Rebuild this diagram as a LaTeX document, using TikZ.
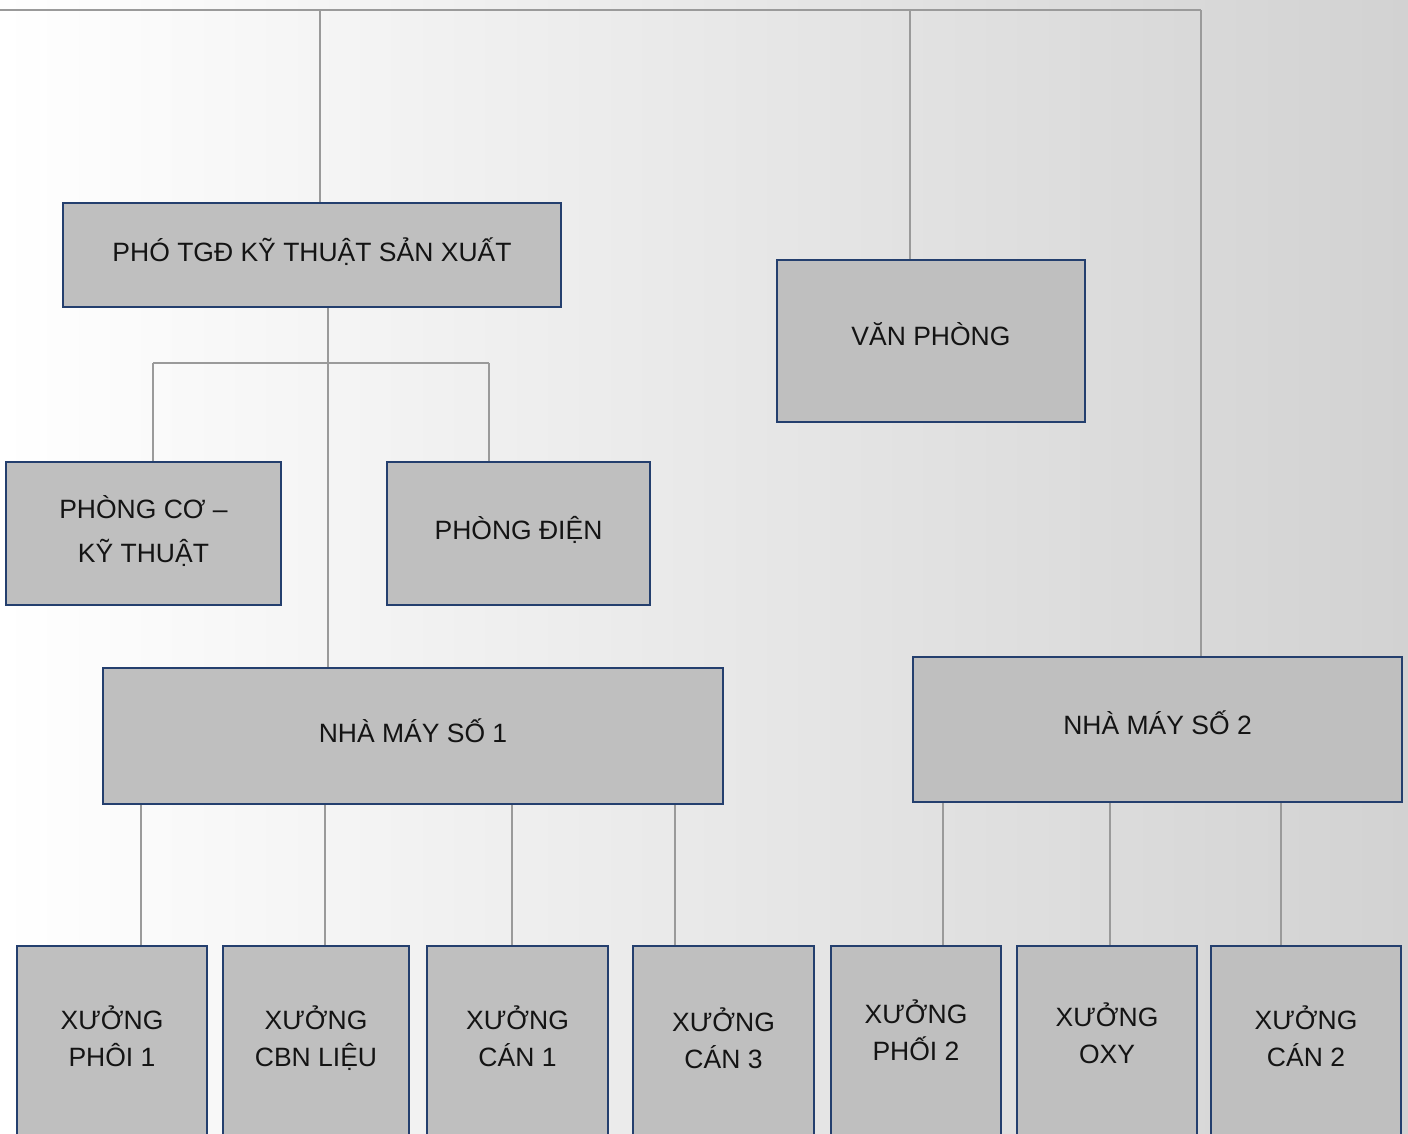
\documentclass[tikz,border=0pt]{standalone}
\usepackage{fontspec}
\setmainfont{Liberation Sans}
\definecolor{boxfill}{HTML}{BFBFBF}
\definecolor{boxline}{HTML}{243F6E}
\definecolor{conncol}{HTML}{9A9A9A}
\definecolor{bgright}{HTML}{D2D2D2}
\tikzset{
  orgbox/.style={draw=boxline, fill=boxfill, line width=2.6pt, inner sep=0pt,
    font=\fontsize{26.5pt}{37pt}\selectfont, text=black!92},
  connline/.style={draw=conncol, line width=1.4pt},
  lowbox/.style={orgbox, minimum height=204pt}
}
\begin{document}
\begin{tikzpicture}[x=1pt,y=-1pt]
\useasboundingbox (0,0) rectangle (1408,1133);
\clip (0,0) rectangle (1408,1133);
\shade[left color=white, right color=bgright] (0,0) rectangle (1408,1133);

% upper boxes
\node[orgbox, minimum width=498pt, minimum height=104pt] (pho) at (312,255)
  {\begin{tabular}{@{}c@{}}PHÓ TGĐ KỸ THUẬT SẢN XUẤT\\[2pt]\end{tabular}};
\node[orgbox, minimum width=308pt, minimum height=162pt] (van) at (931,341)
  {\begin{tabular}{@{}c@{}}VĂN PHÒNG\\[5pt]\end{tabular}};
\node[orgbox, minimum width=275pt, minimum height=143pt] (pcokt) at (143.5,533.5)
  {\begin{tabular}{@{}c@{}}PHÒNG CƠ –\\[7pt]KỸ THUẬT\end{tabular}};
\node[orgbox, minimum width=263pt, minimum height=143pt] (pdien) at (518.5,533.5)
  {\begin{tabular}{@{}c@{}}PHÒNG ĐIỆN\\[2pt]\end{tabular}};
\node[orgbox, minimum width=620pt, minimum height=136pt] (nm1) at (413,736)
  {\begin{tabular}{@{}c@{}}NHÀ MÁY SỐ 1\\[2pt]\end{tabular}};
\node[orgbox, minimum width=489pt, minimum height=145pt] (nm2) at (1157.5,729.5)
  {\begin{tabular}{@{}c@{}}NHÀ MÁY SỐ 2\\[4pt]\end{tabular}};

% lower boxes
\node[lowbox, minimum width=190pt] (x1) at (112,1048)
  {\begin{tabular}{@{}c@{}}XƯỞNG\\PHÔI 1\\[15pt]\end{tabular}};
\node[lowbox, minimum width=186pt] (x2) at (316,1048)
  {\begin{tabular}{@{}c@{}}XƯỞNG\\CBN LIỆU\\[15pt]\end{tabular}};
\node[lowbox, minimum width=181pt] (x3) at (517.5,1048)
  {\begin{tabular}{@{}c@{}}XƯỞNG\\CÁN 1\\[14pt]\end{tabular}};
\node[lowbox, minimum width=181pt] (x4) at (723.5,1048)
  {\begin{tabular}{@{}c@{}}XƯỞNG\\CÁN 3\\[10pt]\end{tabular}};
\node[lowbox, minimum width=170pt] (x5) at (916,1048)
  {\begin{tabular}{@{}c@{}}XƯỞNG\\PHỐI 2\\[27pt]\end{tabular}};
\node[lowbox, minimum width=180pt] (x6) at (1107,1048)
  {\begin{tabular}{@{}c@{}}XƯỞNG\\OXY\\[20pt]\end{tabular}};
\node[lowbox, minimum width=190pt] (x7) at (1306,1048)
  {\begin{tabular}{@{}c@{}}XƯỞNG\\CÁN 2\\[15pt]\end{tabular}};

% top bus
\coordinate (tl) at (0,10);
\coordinate (tr) at (1201,10);
\coordinate (t1) at (320,10);
\coordinate (t2) at (910,10);
\draw[connline] (tl) -- (tr);
\draw[connline] (t1) -- (t1 |- pho.north);
\draw[connline] (t2) -- (t2 |- van.north);
\draw[connline] (tr) -- (tr |- nm2.north);

% under PHO TGD
\coordinate (bus) at (328,363);
\coordinate (busl) at (153,363);
\coordinate (busr) at (489,363);
\draw[connline] (bus |- pho.south) -- (bus |- nm1.north);
\draw[connline] (busl) -- (busr);
\draw[connline] (busl) -- (busl |- pcokt.north);
\draw[connline] (busr) -- (busr |- pdien.north);

% under NHA MAY 1
\coordinate (d1) at (141,0);
\coordinate (d2) at (325,0);
\coordinate (d3) at (512,0);
\coordinate (d4) at (675,0);
\draw[connline] (d1 |- nm1.south) -- (d1 |- x1.north);
\draw[connline] (d2 |- nm1.south) -- (d2 |- x2.north);
\draw[connline] (d3 |- nm1.south) -- (d3 |- x3.north);
\draw[connline] (d4 |- nm1.south) -- (d4 |- x4.north);

% under NHA MAY 2
\coordinate (e1) at (943,0);
\coordinate (e2) at (1110,0);
\coordinate (e3) at (1281,0);
\draw[connline] (e1 |- nm2.south) -- (e1 |- x5.north);
\draw[connline] (e2 |- nm2.south) -- (e2 |- x6.north);
\draw[connline] (e3 |- nm2.south) -- (e3 |- x7.north);
\end{tikzpicture}
\end{document}
